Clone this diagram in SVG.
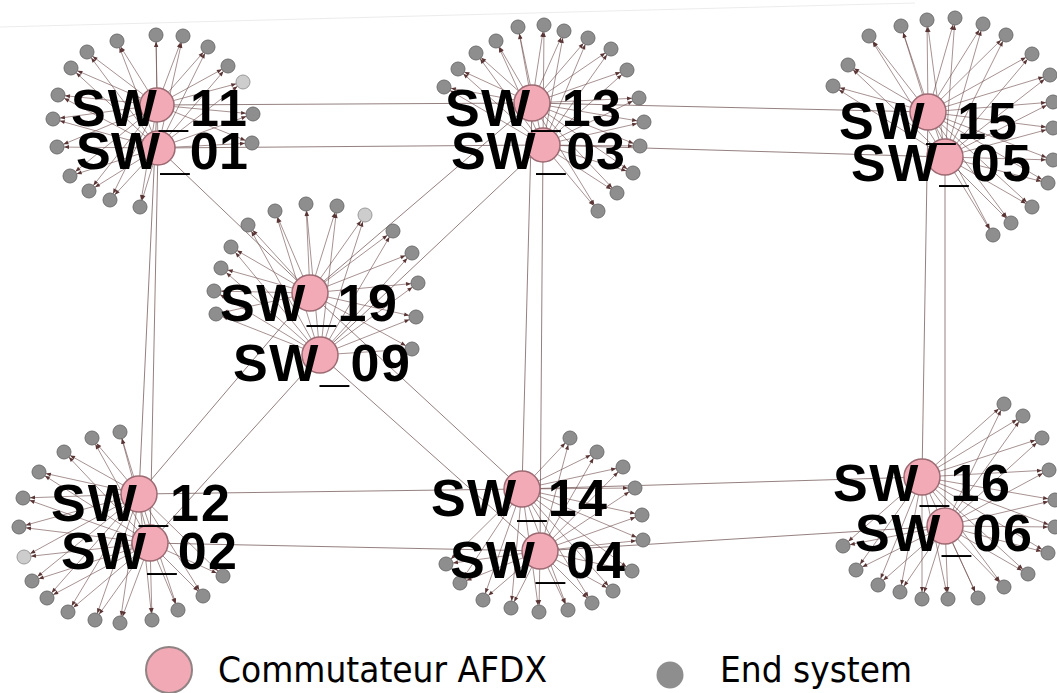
<svg xmlns="http://www.w3.org/2000/svg" width="1057" height="693" viewBox="0 0 1057 693">
<style>
.bg{fill:#ffffff}
.e line{stroke:#6b4848;stroke-width:0.6;marker-end:url(#ah)}
.k line{stroke:#7a5f5f;stroke-width:0.8}
.es{fill:#8e8e8e;stroke:#6f6f6f;stroke-width:1}
.esl{fill:#cdcdcd;stroke:#9a9a9a;stroke-width:1}
.sw{fill:#f2aab7;stroke:#9c6a72;stroke-width:1.5}
.lbl{font-family:"Liberation Sans",Arial,sans-serif;font-weight:bold;font-size:52px;fill:#000}
.leg{font-family:"DejaVu Sans","Liberation Sans",sans-serif;font-size:36px;fill:#000}
</style>
<defs>
<marker id="ah" markerUnits="userSpaceOnUse" markerWidth="5" markerHeight="4" refX="12" refY="2" orient="auto" overflow="visible">
<path d="M0,0 L5,2 L0,4 z" fill="#5a3535"/>
</marker>
</defs>
<rect class="bg" x="0" y="0" width="1057" height="693"/>
<line x1="0" y1="27" x2="915" y2="3" stroke="#ececec" stroke-width="1"/>
<g id="connectors">
<g class="k">
<line x1="157" y1="105" x2="532" y2="103"/>
<line x1="158" y1="148" x2="543" y2="145"/>
<line x1="532" y1="103" x2="928" y2="112"/>
<line x1="543" y1="145" x2="945" y2="157"/>
<line x1="157" y1="105" x2="139" y2="494"/>
<line x1="158" y1="148" x2="150" y2="543"/>
<line x1="532" y1="103" x2="522" y2="489"/>
<line x1="543" y1="145" x2="540" y2="551"/>
<line x1="928" y1="112" x2="922" y2="477"/>
<line x1="945" y1="157" x2="945" y2="526"/>
<line x1="139" y1="494" x2="522" y2="489"/>
<line x1="150" y1="543" x2="540" y2="551"/>
<line x1="522" y1="489" x2="922" y2="477"/>
<line x1="540" y1="551" x2="945" y2="526"/>
<line x1="158" y1="148" x2="310" y2="293"/>
<line x1="532" y1="103" x2="310" y2="293"/>
<line x1="543" y1="145" x2="320" y2="355"/>
<line x1="310" y1="293" x2="139" y2="494"/>
<line x1="320" y1="355" x2="150" y2="543"/>
<line x1="310" y1="293" x2="522" y2="489"/>
<line x1="320" y1="355" x2="540" y2="551"/>
</g>
<g class="e">
<!-- cluster 1 -->
<line x1="157" y1="105" x2="117" y2="41"/><line x1="158" y1="148" x2="117" y2="41"/>
<line x1="157" y1="105" x2="156" y2="35"/><line x1="158" y1="148" x2="156" y2="35"/>
<line x1="157" y1="105" x2="183" y2="36"/><line x1="158" y1="148" x2="183" y2="36"/>
<line x1="157" y1="105" x2="208" y2="47"/><line x1="158" y1="148" x2="208" y2="47"/>
<line x1="157" y1="105" x2="87" y2="52"/><line x1="158" y1="148" x2="87" y2="52"/>
<line x1="157" y1="105" x2="71" y2="68"/><line x1="158" y1="148" x2="71" y2="68"/>
<line x1="157" y1="105" x2="228" y2="66"/><line x1="158" y1="148" x2="228" y2="66"/>
<line x1="157" y1="105" x2="243" y2="82"/><line x1="158" y1="148" x2="243" y2="82"/>
<line x1="157" y1="105" x2="58" y2="95"/><line x1="158" y1="148" x2="58" y2="95"/>
<line x1="157" y1="105" x2="253" y2="114"/><line x1="158" y1="148" x2="253" y2="114"/>
<line x1="157" y1="105" x2="53" y2="119"/><line x1="158" y1="148" x2="53" y2="119"/>
<line x1="157" y1="105" x2="252" y2="143"/><line x1="158" y1="148" x2="252" y2="143"/>
<line x1="157" y1="105" x2="57" y2="147"/><line x1="158" y1="148" x2="57" y2="147"/>
<line x1="157" y1="105" x2="70" y2="176"/><line x1="158" y1="148" x2="70" y2="176"/>
<line x1="157" y1="105" x2="89" y2="191"/><line x1="158" y1="148" x2="89" y2="191"/>
<line x1="157" y1="105" x2="110" y2="200"/><line x1="158" y1="148" x2="110" y2="200"/>
<line x1="157" y1="105" x2="140" y2="207"/><line x1="158" y1="148" x2="140" y2="207"/>
<!-- cluster 2 -->
<line x1="532" y1="103" x2="518" y2="27"/><line x1="543" y1="145" x2="518" y2="27"/>
<line x1="532" y1="103" x2="544" y2="25"/><line x1="543" y1="145" x2="544" y2="25"/>
<line x1="532" y1="103" x2="564" y2="31"/><line x1="543" y1="145" x2="564" y2="31"/>
<line x1="532" y1="103" x2="588" y2="38"/><line x1="543" y1="145" x2="588" y2="38"/>
<line x1="532" y1="103" x2="496" y2="41"/><line x1="543" y1="145" x2="496" y2="41"/>
<line x1="532" y1="103" x2="476" y2="53"/><line x1="543" y1="145" x2="476" y2="53"/>
<line x1="532" y1="103" x2="611" y2="49"/><line x1="543" y1="145" x2="611" y2="49"/>
<line x1="532" y1="103" x2="458" y2="69"/><line x1="543" y1="145" x2="458" y2="69"/>
<line x1="532" y1="103" x2="627" y2="70"/><line x1="543" y1="145" x2="627" y2="70"/>
<line x1="532" y1="103" x2="444" y2="87"/><line x1="543" y1="145" x2="444" y2="87"/>
<line x1="532" y1="103" x2="639" y2="98"/><line x1="543" y1="145" x2="639" y2="98"/>
<line x1="532" y1="103" x2="644" y2="122"/><line x1="543" y1="145" x2="644" y2="122"/>
<line x1="532" y1="103" x2="640" y2="146"/><line x1="543" y1="145" x2="640" y2="146"/>
<line x1="532" y1="103" x2="633" y2="173"/><line x1="543" y1="145" x2="633" y2="173"/>
<line x1="532" y1="103" x2="617" y2="193"/><line x1="543" y1="145" x2="617" y2="193"/>
<line x1="532" y1="103" x2="598" y2="211"/><line x1="543" y1="145" x2="598" y2="211"/>
<!-- cluster 3 -->
<line x1="928" y1="112" x2="869" y2="36"/><line x1="945" y1="157" x2="869" y2="36"/>
<line x1="928" y1="112" x2="901" y2="26"/><line x1="945" y1="157" x2="901" y2="26"/>
<line x1="928" y1="112" x2="927" y2="20"/><line x1="945" y1="157" x2="927" y2="20"/>
<line x1="928" y1="112" x2="955" y2="18"/><line x1="945" y1="157" x2="955" y2="18"/>
<line x1="928" y1="112" x2="983" y2="24"/><line x1="945" y1="157" x2="983" y2="24"/>
<line x1="928" y1="112" x2="1006" y2="35"/><line x1="945" y1="157" x2="1006" y2="35"/>
<line x1="928" y1="112" x2="848" y2="65"/><line x1="945" y1="157" x2="848" y2="65"/>
<line x1="928" y1="112" x2="1032" y2="54"/><line x1="945" y1="157" x2="1032" y2="54"/>
<line x1="928" y1="112" x2="833" y2="86"/><line x1="945" y1="157" x2="833" y2="86"/>
<line x1="928" y1="112" x2="1050" y2="75"/><line x1="945" y1="157" x2="1050" y2="75"/>
<line x1="928" y1="112" x2="1053" y2="102"/><line x1="945" y1="157" x2="1053" y2="102"/>
<line x1="928" y1="112" x2="1053" y2="128"/><line x1="945" y1="157" x2="1053" y2="128"/>
<line x1="928" y1="112" x2="1053" y2="160"/><line x1="945" y1="157" x2="1053" y2="160"/>
<line x1="928" y1="112" x2="1048" y2="183"/><line x1="945" y1="157" x2="1048" y2="183"/>
<line x1="928" y1="112" x2="1032" y2="207"/><line x1="945" y1="157" x2="1032" y2="207"/>
<line x1="928" y1="112" x2="1011" y2="223"/><line x1="945" y1="157" x2="1011" y2="223"/>
<line x1="928" y1="112" x2="993" y2="235"/><line x1="945" y1="157" x2="993" y2="235"/>
<!-- cluster 4 -->
<line x1="310" y1="293" x2="275" y2="211"/><line x1="320" y1="355" x2="275" y2="211"/>
<line x1="310" y1="293" x2="306" y2="204"/><line x1="320" y1="355" x2="306" y2="204"/>
<line x1="310" y1="293" x2="337" y2="206"/><line x1="320" y1="355" x2="337" y2="206"/>
<line x1="310" y1="293" x2="365" y2="215"/><line x1="320" y1="355" x2="365" y2="215"/>
<line x1="310" y1="293" x2="248" y2="225"/><line x1="320" y1="355" x2="248" y2="225"/>
<line x1="310" y1="293" x2="393" y2="231"/><line x1="320" y1="355" x2="393" y2="231"/>
<line x1="310" y1="293" x2="231" y2="247"/><line x1="320" y1="355" x2="231" y2="247"/>
<line x1="310" y1="293" x2="412" y2="253"/><line x1="320" y1="355" x2="412" y2="253"/>
<line x1="310" y1="293" x2="221" y2="268"/><line x1="320" y1="355" x2="221" y2="268"/>
<line x1="310" y1="293" x2="418" y2="283"/><line x1="320" y1="355" x2="418" y2="283"/>
<line x1="310" y1="293" x2="214" y2="291"/><line x1="320" y1="355" x2="214" y2="291"/>
<line x1="310" y1="293" x2="416" y2="317"/><line x1="320" y1="355" x2="416" y2="317"/>
<line x1="310" y1="293" x2="216" y2="314"/><line x1="320" y1="355" x2="216" y2="314"/>
<line x1="310" y1="293" x2="412" y2="349"/><line x1="320" y1="355" x2="412" y2="349"/>
<!-- cluster 5 -->
<line x1="139" y1="494" x2="120" y2="432"/><line x1="150" y1="543" x2="120" y2="432"/>
<line x1="139" y1="494" x2="92" y2="438"/><line x1="150" y1="543" x2="92" y2="438"/>
<line x1="139" y1="494" x2="64" y2="452"/><line x1="150" y1="543" x2="64" y2="452"/>
<line x1="139" y1="494" x2="39" y2="472"/><line x1="150" y1="543" x2="39" y2="472"/>
<line x1="139" y1="494" x2="23" y2="498"/><line x1="150" y1="543" x2="23" y2="498"/>
<line x1="139" y1="494" x2="19" y2="527"/><line x1="150" y1="543" x2="19" y2="527"/>
<line x1="139" y1="494" x2="24" y2="557"/><line x1="150" y1="543" x2="24" y2="557"/>
<line x1="139" y1="494" x2="32" y2="581"/><line x1="150" y1="543" x2="32" y2="581"/>
<line x1="139" y1="494" x2="47" y2="598"/><line x1="150" y1="543" x2="47" y2="598"/>
<line x1="139" y1="494" x2="68" y2="612"/><line x1="150" y1="543" x2="68" y2="612"/>
<line x1="139" y1="494" x2="95" y2="620"/><line x1="150" y1="543" x2="95" y2="620"/>
<line x1="139" y1="494" x2="120" y2="623"/><line x1="150" y1="543" x2="120" y2="623"/>
<line x1="139" y1="494" x2="152" y2="620"/><line x1="150" y1="543" x2="152" y2="620"/>
<line x1="139" y1="494" x2="178" y2="610"/><line x1="150" y1="543" x2="178" y2="610"/>
<line x1="139" y1="494" x2="203" y2="596"/><line x1="150" y1="543" x2="203" y2="596"/>
<line x1="139" y1="494" x2="223" y2="576"/><line x1="150" y1="543" x2="223" y2="576"/>
<!-- cluster 6 -->
<line x1="522" y1="489" x2="570" y2="438"/><line x1="540" y1="551" x2="570" y2="438"/>
<line x1="522" y1="489" x2="597" y2="452"/><line x1="540" y1="551" x2="597" y2="452"/>
<line x1="522" y1="489" x2="623" y2="467"/><line x1="540" y1="551" x2="623" y2="467"/>
<line x1="522" y1="489" x2="635" y2="488"/><line x1="540" y1="551" x2="635" y2="488"/>
<line x1="522" y1="489" x2="642" y2="515"/><line x1="540" y1="551" x2="642" y2="515"/>
<line x1="522" y1="489" x2="643" y2="540"/><line x1="540" y1="551" x2="643" y2="540"/>
<line x1="522" y1="489" x2="632" y2="571"/><line x1="540" y1="551" x2="632" y2="571"/>
<line x1="522" y1="489" x2="613" y2="591"/><line x1="540" y1="551" x2="613" y2="591"/>
<line x1="522" y1="489" x2="592" y2="603"/><line x1="540" y1="551" x2="592" y2="603"/>
<line x1="522" y1="489" x2="568" y2="610"/><line x1="540" y1="551" x2="568" y2="610"/>
<line x1="522" y1="489" x2="539" y2="612"/><line x1="540" y1="551" x2="539" y2="612"/>
<line x1="522" y1="489" x2="511" y2="608"/><line x1="540" y1="551" x2="511" y2="608"/>
<line x1="522" y1="489" x2="483" y2="600"/><line x1="540" y1="551" x2="483" y2="600"/>
<line x1="522" y1="489" x2="460" y2="583"/><line x1="540" y1="551" x2="460" y2="583"/>
<line x1="522" y1="489" x2="446" y2="564"/><line x1="540" y1="551" x2="446" y2="564"/>
<!-- cluster 7 -->
<line x1="922" y1="477" x2="1004" y2="404"/><line x1="945" y1="526" x2="1004" y2="404"/>
<line x1="922" y1="477" x2="1023" y2="416"/><line x1="945" y1="526" x2="1023" y2="416"/>
<line x1="922" y1="477" x2="1042" y2="438"/><line x1="945" y1="526" x2="1042" y2="438"/>
<line x1="922" y1="477" x2="1049" y2="470"/><line x1="945" y1="526" x2="1049" y2="470"/>
<line x1="922" y1="477" x2="1055" y2="500"/><line x1="945" y1="526" x2="1055" y2="500"/>
<line x1="922" y1="477" x2="1055" y2="527"/><line x1="945" y1="526" x2="1055" y2="527"/>
<line x1="922" y1="477" x2="1048" y2="553"/><line x1="945" y1="526" x2="1048" y2="553"/>
<line x1="922" y1="477" x2="1028" y2="574"/><line x1="945" y1="526" x2="1028" y2="574"/>
<line x1="922" y1="477" x2="1004" y2="587"/><line x1="945" y1="526" x2="1004" y2="587"/>
<line x1="922" y1="477" x2="978" y2="598"/><line x1="945" y1="526" x2="978" y2="598"/>
<line x1="922" y1="477" x2="948" y2="599"/><line x1="945" y1="526" x2="948" y2="599"/>
<line x1="922" y1="477" x2="922" y2="599"/><line x1="945" y1="526" x2="922" y2="599"/>
<line x1="922" y1="477" x2="900" y2="592"/><line x1="945" y1="526" x2="900" y2="592"/>
<line x1="922" y1="477" x2="878" y2="585"/><line x1="945" y1="526" x2="878" y2="585"/>
<line x1="922" y1="477" x2="856" y2="570"/><line x1="945" y1="526" x2="856" y2="570"/>
<line x1="922" y1="477" x2="843" y2="546"/><line x1="945" y1="526" x2="843" y2="546"/>
</g>
</g>
<g id="end-systems">
<g id="es1"><circle class="es" cx="117" cy="41" r="7"/><circle class="es" cx="156" cy="35" r="7"/><circle class="es" cx="183" cy="36" r="7"/><circle class="es" cx="208" cy="47" r="7"/><circle class="es" cx="87" cy="52" r="7"/><circle class="es" cx="71" cy="68" r="7"/><circle class="es" cx="228" cy="66" r="7"/><circle class="esl" cx="243" cy="82" r="7"/><circle class="es" cx="58" cy="95" r="7"/><circle class="es" cx="253" cy="114" r="7"/><circle class="es" cx="53" cy="119" r="7"/><circle class="es" cx="252" cy="143" r="7"/><circle class="es" cx="57" cy="147" r="7"/><circle class="es" cx="70" cy="176" r="7"/><circle class="es" cx="89" cy="191" r="7"/><circle class="es" cx="110" cy="200" r="7"/><circle class="es" cx="140" cy="207" r="7"/></g>
<g id="es2"><circle class="es" cx="518" cy="27" r="7"/><circle class="es" cx="544" cy="25" r="7"/><circle class="es" cx="564" cy="31" r="7"/><circle class="es" cx="588" cy="38" r="7"/><circle class="es" cx="496" cy="41" r="7"/><circle class="es" cx="476" cy="53" r="7"/><circle class="es" cx="611" cy="49" r="7"/><circle class="es" cx="458" cy="69" r="7"/><circle class="es" cx="627" cy="70" r="7"/><circle class="es" cx="444" cy="87" r="7"/><circle class="es" cx="639" cy="98" r="7"/><circle class="es" cx="644" cy="122" r="7"/><circle class="es" cx="640" cy="146" r="7"/><circle class="es" cx="633" cy="173" r="7"/><circle class="es" cx="617" cy="193" r="7"/><circle class="es" cx="598" cy="211" r="7"/></g>
<g id="es3"><circle class="es" cx="869" cy="36" r="7"/><circle class="es" cx="901" cy="26" r="7"/><circle class="es" cx="927" cy="20" r="7"/><circle class="es" cx="955" cy="18" r="7"/><circle class="es" cx="983" cy="24" r="7"/><circle class="es" cx="1006" cy="35" r="7"/><circle class="es" cx="848" cy="65" r="7"/><circle class="es" cx="1032" cy="54" r="7"/><circle class="es" cx="833" cy="86" r="7"/><circle class="es" cx="1050" cy="75" r="7"/><circle class="es" cx="1053" cy="102" r="7"/><circle class="es" cx="1053" cy="128" r="7"/><circle class="es" cx="1053" cy="160" r="7"/><circle class="es" cx="1048" cy="183" r="7"/><circle class="es" cx="1032" cy="207" r="7"/><circle class="es" cx="1011" cy="223" r="7"/><circle class="es" cx="993" cy="235" r="7"/></g>
<g id="es4"><circle class="es" cx="275" cy="211" r="7"/><circle class="es" cx="306" cy="204" r="7"/><circle class="es" cx="337" cy="206" r="7"/><circle class="esl" cx="365" cy="215" r="7"/><circle class="es" cx="248" cy="225" r="7"/><circle class="es" cx="393" cy="231" r="7"/><circle class="es" cx="231" cy="247" r="7"/><circle class="es" cx="412" cy="253" r="7"/><circle class="es" cx="221" cy="268" r="7"/><circle class="es" cx="418" cy="283" r="7"/><circle class="es" cx="214" cy="291" r="7"/><circle class="es" cx="416" cy="317" r="7"/><circle class="es" cx="216" cy="314" r="7"/><circle class="es" cx="412" cy="349" r="7"/></g>
<g id="es5"><circle class="es" cx="120" cy="432" r="7"/><circle class="es" cx="92" cy="438" r="7"/><circle class="es" cx="64" cy="452" r="7"/><circle class="es" cx="39" cy="472" r="7"/><circle class="es" cx="23" cy="498" r="7"/><circle class="es" cx="19" cy="527" r="7"/><circle class="esl" cx="24" cy="557" r="7"/><circle class="es" cx="32" cy="581" r="7"/><circle class="es" cx="47" cy="598" r="7"/><circle class="es" cx="68" cy="612" r="7"/><circle class="es" cx="95" cy="620" r="7"/><circle class="es" cx="120" cy="623" r="7"/><circle class="es" cx="152" cy="620" r="7"/><circle class="es" cx="178" cy="610" r="7"/><circle class="es" cx="203" cy="596" r="7"/><circle class="es" cx="223" cy="576" r="7"/></g>
<g id="es6"><circle class="es" cx="570" cy="438" r="7"/><circle class="es" cx="597" cy="452" r="7"/><circle class="es" cx="623" cy="467" r="7"/><circle class="es" cx="635" cy="488" r="7"/><circle class="es" cx="642" cy="515" r="7"/><circle class="es" cx="643" cy="540" r="7"/><circle class="es" cx="632" cy="571" r="7"/><circle class="es" cx="613" cy="591" r="7"/><circle class="es" cx="592" cy="603" r="7"/><circle class="es" cx="568" cy="610" r="7"/><circle class="es" cx="539" cy="612" r="7"/><circle class="es" cx="511" cy="608" r="7"/><circle class="es" cx="483" cy="600" r="7"/><circle class="es" cx="460" cy="583" r="7"/><circle class="es" cx="446" cy="564" r="7"/></g>
<g id="es7"><circle class="es" cx="1004" cy="404" r="7"/><circle class="es" cx="1023" cy="416" r="7"/><circle class="es" cx="1042" cy="438" r="7"/><circle class="es" cx="1049" cy="470" r="7"/><circle class="es" cx="1055" cy="500" r="7"/><circle class="es" cx="1055" cy="527" r="7"/><circle class="es" cx="1048" cy="553" r="7"/><circle class="es" cx="1028" cy="574" r="7"/><circle class="es" cx="1004" cy="587" r="7"/><circle class="es" cx="978" cy="598" r="7"/><circle class="es" cx="948" cy="599" r="7"/><circle class="es" cx="922" cy="599" r="7"/><circle class="es" cx="900" cy="592" r="7"/><circle class="es" cx="878" cy="585" r="7"/><circle class="es" cx="856" cy="570" r="7"/><circle class="es" cx="843" cy="546" r="7"/></g>
</g>
<g id="SW_11"><circle class="sw" cx="157" cy="105" r="17"/></g>
<g id="SW_01"><circle class="sw" cx="158" cy="148" r="17"/></g>
<g id="SW_13"><circle class="sw" cx="532" cy="103" r="18"/></g>
<g id="SW_03"><circle class="sw" cx="543" cy="145" r="17"/></g>
<g id="SW_15"><circle class="sw" cx="928" cy="112" r="18"/></g>
<g id="SW_05"><circle class="sw" cx="945" cy="157" r="18"/></g>
<g id="SW_19"><circle class="sw" cx="310" cy="293" r="18"/></g>
<g id="SW_09"><circle class="sw" cx="320" cy="355" r="18"/></g>
<g id="SW_12"><circle class="sw" cx="139" cy="494" r="18"/></g>
<g id="SW_02"><circle class="sw" cx="150" cy="543" r="18"/></g>
<g id="SW_14"><circle class="sw" cx="522" cy="489" r="18"/></g>
<g id="SW_04"><circle class="sw" cx="540" cy="551" r="18"/></g>
<g id="SW_16"><circle class="sw" cx="922" cy="477" r="18"/></g>
<g id="SW_06"><circle class="sw" cx="945" cy="526" r="18"/></g>
<g id="labels">
<text class="lbl" x="71" y="126" textLength="176" lengthAdjust="spacing">SW_11</text>
<text class="lbl" x="76" y="169" textLength="172" lengthAdjust="spacing">SW_01</text>
<text class="lbl" x="445" y="126" textLength="176" lengthAdjust="spacing">SW_13</text>
<text class="lbl" x="451" y="169" textLength="174" lengthAdjust="spacing">SW_03</text>
<text class="lbl" x="839" y="139" textLength="178" lengthAdjust="spacing">SW_15</text>
<text class="lbl" x="851" y="181" textLength="180" lengthAdjust="spacing">SW_05</text>
<text class="lbl" x="220" y="321" textLength="177" lengthAdjust="spacing">SW_19</text>
<text class="lbl" x="233" y="381" textLength="177" lengthAdjust="spacing">SW_09</text>
<text class="lbl" x="51" y="521" textLength="179" lengthAdjust="spacing">SW_12</text>
<text class="lbl" x="61" y="569" textLength="176" lengthAdjust="spacing">SW_02</text>
<text class="lbl" x="431" y="516" textLength="176" lengthAdjust="spacing">SW_14</text>
<text class="lbl" x="450" y="578" textLength="175" lengthAdjust="spacing">SW_04</text>
<text class="lbl" x="833" y="501" textLength="177" lengthAdjust="spacing">SW_16</text>
<text class="lbl" x="855" y="551" textLength="177" lengthAdjust="spacing">SW_06</text>
</g>
<g id="legend">
<g id="legend-switch"><circle cx="169" cy="670" r="23" fill="#f0a9b5" stroke="#8f8383" stroke-width="2"/>
<text class="leg" x="218" y="682" textLength="329" lengthAdjust="spacingAndGlyphs">Commutateur AFDX</text></g>
<g id="legend-es"><circle cx="670" cy="675" r="13.5" fill="#8e8e8e"/>
<text class="leg" x="720" y="682" textLength="192" lengthAdjust="spacingAndGlyphs">End system</text></g>
</g>
</svg>
